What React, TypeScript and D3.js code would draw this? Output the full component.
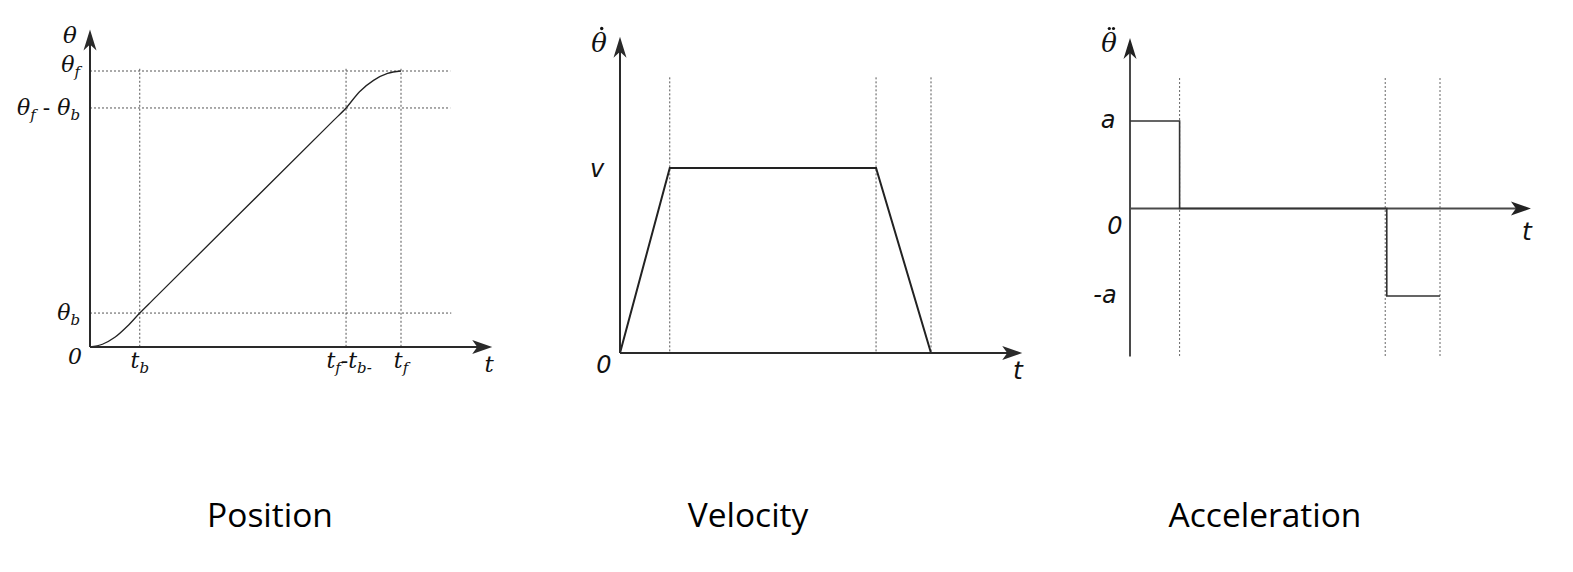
import React from 'react';
import * as d3 from 'd3';

// ---- data ----
const KEY_TIMES = [0, 0.96, 4.94, 6]; // 0, t_b, t_f - t_b, t_f
const T_AXIS_MAX = 7.76;

const POS_T = [0, 0.24, 0.48, 0.72, 0.96, 1.2, 4.7, 4.94, 5.2, 5.47, 5.74, 6];
const POS_THETA = [0, 0.1, 0.35, 0.75, 1.23, 1.68, 8.21, 8.66, 9.25, 9.66, 9.91, 10];
const POS_LEVELS = [1.23, 8.66, 10]; // θb, θf-θb, θf
const POS_AXIS_MAX = 11.5;

const VEL_T = KEY_TIMES;
const VEL_V = [0, 1, 1, 0];
const VEL_AXIS_MAX = 1.71;

const ACC_T = [0, 0.96, 4.97, 6];
const ACC_A = [1, 0, -1, -1];
const ACC_AXIS = [-1.69, 1.95];

const TITLES = ['Position', 'Velocity', 'Acceleration'];

const SERIF = '"DejaVu Serif", serif';
const SANS = '"DejaVu Sans", sans-serif';

function ArrowUp({ x, y, fill }: { x: number; y: number; fill: string }) {
  return <path d={`M${x},${y} L${x - 6.5},${y + 21} L${x},${y + 15} L${x + 6.5},${y + 21} Z`} fill={fill} />;
}
function ArrowRight({ x, y, fill }: { x: number; y: number; fill: string }) {
  return <path d={`M${x},${y} L${x - 20},${y - 7} L${x - 15},${y} L${x - 20},${y + 7} Z`} fill={fill} />;
}

function Position() {
  const x = d3.scaleLinear().domain([0, 6]).range([90, 401]);
  const y = d3.scaleLinear().domain([0, 10]).range([347, 71]);
  const line = d3.line<number>().x((_, i) => x(POS_T[i])).y((d) => y(d)).curve(d3.curveMonotoneX);
  const axisCol = '#2a2a2a';
  const dot = { stroke: '#555', strokeWidth: 1, strokeDasharray: '2,2' };
  const hEnd = [6.97, 6.95, 6.95];
  const labelStyle = { fontFamily: SERIF, fontStyle: 'italic' as const, fontSize: 22, fill: '#111' };
  return (
    <g>
      {POS_LEVELS.map((lv, i) => (
        <line key={'h' + i} x1={x(0)} x2={x(hEnd[i])} y1={y(lv)} y2={y(lv)} {...dot} />
      ))}
      {KEY_TIMES.slice(1).map((t, i) => (
        <line key={'v' + i} x1={x(t)} x2={x(t)} y1={y(10.08)} y2={y(0)} {...dot} />
      ))}
      <path d={line(POS_THETA) || ''} fill="none" stroke="#222" strokeWidth={1.3} />
      <line x1={x(0)} x2={x(0)} y1={y(0)} y2={y(POS_AXIS_MAX) + 10} stroke={axisCol} strokeWidth={2} />
      <line x1={x(0)} x2={x(T_AXIS_MAX) - 10} y1={y(0)} y2={y(0)} stroke={axisCol} strokeWidth={2} />
      <ArrowUp x={x(0)} y={y(POS_AXIS_MAX)} fill={axisCol} />
      <ArrowRight x={x(T_AXIS_MAX)} y={y(0)} fill={axisCol} />
      {/* y labels */}
      <text x={70} y={43} textAnchor="middle" {...labelStyle} fontSize={23}>θ</text>
      <text x={80} y={y(10) + 1} textAnchor="end" {...labelStyle}>
        θ<tspan fontSize={15} dy={5}>f</tspan>
      </text>
      <text x={80} y={y(8.66) + 7} textAnchor="end" {...labelStyle}>
        θ<tspan fontSize={15} dy={5}>f</tspan>
        <tspan dy={-5} fontStyle="normal"> - </tspan>θ<tspan fontSize={15} dy={5}>b</tspan>
      </text>
      <text x={80} y={y(1.23) + 7} textAnchor="end" {...labelStyle}>
        θ<tspan fontSize={15} dy={5}>b</tspan>
      </text>
      <text x={75} y={364} textAnchor="middle" {...labelStyle}>0</text>
      {/* x labels */}
      <text x={x(KEY_TIMES[1])} y={368} textAnchor="middle" {...labelStyle}>
        t<tspan fontSize={15} dy={5}>b</tspan>
      </text>
      <text x={x(KEY_TIMES[2]) + 3} y={368} textAnchor="middle" {...labelStyle}>
        t<tspan fontSize={15} dy={5}>f</tspan>
        <tspan dy={-5} fontStyle="normal">-</tspan>t<tspan fontSize={15} dy={5}>b-</tspan>
      </text>
      <text x={x(KEY_TIMES[3])} y={368} textAnchor="middle" {...labelStyle}>
        t<tspan fontSize={15} dy={5}>f</tspan>
      </text>
      <text x={489} y={372} textAnchor="middle" {...labelStyle} fontSize={23}>t</text>
    </g>
  );
}

function Velocity() {
  const x = d3.scaleLinear().domain([0, 6]).range([620, 931]);
  const y = d3.scaleLinear().domain([0, 1]).range([353, 168]);
  const line = d3.line<number>().x((_, i) => x(VEL_T[i])).y((d) => y(d));
  const axisCol = '#2a2a2a';
  const dot = { stroke: '#555', strokeWidth: 1, strokeDasharray: '2,2' };
  return (
    <g>
      {KEY_TIMES.slice(1).map((t, i) => (
        <line key={'v' + i} x1={x(t)} x2={x(t)} y1={y(1.49)} y2={y(0)} {...dot} />
      ))}
      <path d={line(VEL_V) || ''} fill="none" stroke="#222" strokeWidth={2} />
      <line x1={x(0)} x2={x(0)} y1={y(0)} y2={y(VEL_AXIS_MAX) + 10} stroke={axisCol} strokeWidth={2} />
      <line x1={x(0)} x2={x(T_AXIS_MAX) - 10} y1={y(0)} y2={y(0)} stroke={axisCol} strokeWidth={2} />
      <ArrowUp x={x(0)} y={y(VEL_AXIS_MAX)} fill={axisCol} />
      <ArrowRight x={x(T_AXIS_MAX)} y={y(0)} fill={axisCol} />
      <text x={599} y={52} textAnchor="middle" fontFamily={SERIF} fontStyle="italic" fontSize={26} fill="#111">θ</text>
      <circle cx={601.7} cy={28.5} r={1.7} fill="#111" />
      <text x={597} y={y(1) + 9} textAnchor="middle" fontFamily={SANS} fontStyle="italic" fontSize={24} fill="#111">v</text>
      <text x={604} y={373} textAnchor="middle" fontFamily={SANS} fontStyle="italic" fontSize={24} fill="#111">0</text>
      <text x={1018} y={379} textAnchor="middle" fontFamily={SANS} fontStyle="italic" fontSize={25} fill="#111">t</text>
    </g>
  );
}

function Acceleration() {
  const x = d3.scaleLinear().domain([0, 6]).range([1130, 1440]);
  const y = d3.scaleLinear().domain([-1, 1]).range([296, 121]);
  const line = d3.line<number>().x((_, i) => x(ACC_T[i])).y((d) => y(d)).curve(d3.curveStepAfter);
  const axisCol = '#4a4a4a';
  const dot = { stroke: '#666', strokeWidth: 1, strokeDasharray: '2,2' };
  return (
    <g>
      {KEY_TIMES.slice(1).map((t, i) => (
        <line key={'v' + i} x1={x(t)} x2={x(t)} y1={78} y2={y(ACC_AXIS[0])} {...dot} />
      ))}
      <line x1={x(0)} x2={x(0)} y1={y(ACC_AXIS[0])} y2={y(ACC_AXIS[1]) + 10} stroke={axisCol} strokeWidth={2} />
      <line x1={x(0)} x2={x(T_AXIS_MAX) - 10} y1={y(0)} y2={y(0)} stroke={axisCol} strokeWidth={2.2} />
      <path d={line(ACC_A) || ''} fill="none" stroke="#333" strokeWidth={1.6} />
      <ArrowUp x={x(0)} y={y(ACC_AXIS[1])} fill="#222" />
      <ArrowRight x={x(T_AXIS_MAX)} y={y(0)} fill="#222" />
      <text x={1109} y={52} textAnchor="middle" fontFamily={SERIF} fontStyle="italic" fontSize={26} fill="#111">θ</text>
      <circle cx={1109.3} cy={28.5} r={1.6} fill="#111" />
      <circle cx={1113.5} cy={28.5} r={1.6} fill="#111" />
      <text x={1108} y={y(1) + 7} textAnchor="middle" fontFamily={SANS} fontStyle="italic" fontSize={24} fill="#111">a</text>
      <text x={1115} y={y(0) + 25} textAnchor="middle" fontFamily={SANS} fontStyle="italic" fontSize={24} fill="#111">0</text>
      <text x={1105} y={y(-1) + 7} textAnchor="middle" fontFamily={SANS} fontStyle="italic" fontSize={24} fill="#111">-a</text>
      <text x={1527} y={y(0) + 31} textAnchor="middle" fontFamily={SANS} fontStyle="italic" fontSize={25} fill="#111">t</text>
    </g>
  );
}

export default function App() {
  const titleX = [270, 748, 1265];
  return (
    <svg width={1573} height={572} style={{ position: 'absolute', left: 0, top: 0, background: '#fff' }}>
      <rect width={1573} height={572} fill="#fff" />
      <Position />
      <Velocity />
      <Acceleration />
      {TITLES.map((t, i) => (
        <text key={t} x={titleX[i]} y={527} textAnchor="middle" fontFamily='"Open Sans", sans-serif' fontSize={33.5} fill="#000">
          {t}
        </text>
      ))}
    </svg>
  );
}
